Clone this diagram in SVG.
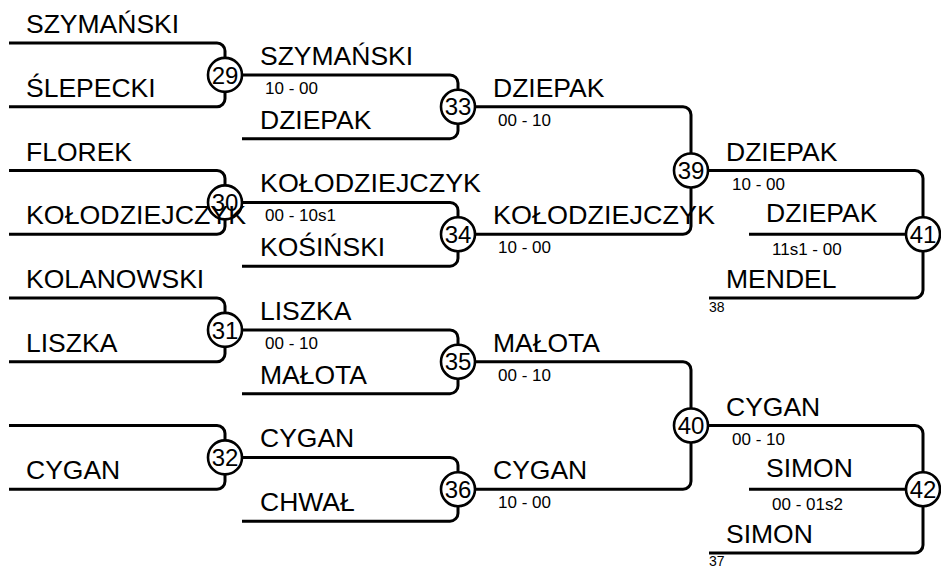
<svg xmlns="http://www.w3.org/2000/svg" width="941" height="566" viewBox="0 0 941 566">
<style>
.c{fill:none;stroke:#000;stroke-width:3;stroke-linejoin:round}
.n circle{fill:#fff;stroke:#000;stroke-width:2.6}
.n text{font-family:"Liberation Sans",Arial,sans-serif;font-size:24px;text-anchor:middle;fill:#000}
.nm{font-family:"Liberation Sans",Arial,sans-serif;font-size:26.5px;fill:#000}
.sc{font-family:"Liberation Sans",Arial,sans-serif;font-size:17px;fill:#000}
.sm{font-family:"Liberation Sans",Arial,sans-serif;font-size:14px;fill:#000}
</style>
<rect width="941" height="566" fill="#fff"/>
<g id="connectors">
<path class="c" d="M9 43 H217 A8 8 0 0 1 225 51 V57.88"/>
<path class="c" d="M9 106.75 H217 A8 8 0 0 0 225 98.75 V91.88"/>
<path class="c" d="M9 170.5 H217 A8 8 0 0 1 225 178.5 V185.38"/>
<path class="c" d="M9 234.25 H217 A8 8 0 0 0 225 226.25 V219.38"/>
<path class="c" d="M9 298 H217 A8 8 0 0 1 225 306 V312.88"/>
<path class="c" d="M9 361.75 H217 A8 8 0 0 0 225 353.75 V346.88"/>
<path class="c" d="M9 425.5 H217 A8 8 0 0 1 225 433.5 V440.38"/>
<path class="c" d="M9 489.25 H217 A8 8 0 0 0 225 481.25 V474.38"/>
<path class="c" d="M242 74.88 H450 A8 8 0 0 1 458 82.88 V89.75"/>
<path class="c" d="M242 138.63 H450 A8 8 0 0 0 458 130.63 V123.75"/>
<path class="c" d="M242 202.38 H450 A8 8 0 0 1 458 210.38 V217.25"/>
<path class="c" d="M242 266.13 H450 A8 8 0 0 0 458 258.13 V251.25"/>
<path class="c" d="M242 329.88 H450 A8 8 0 0 1 458 337.88 V344.75"/>
<path class="c" d="M242 393.63 H450 A8 8 0 0 0 458 385.63 V378.75"/>
<path class="c" d="M242 457.38 H450 A8 8 0 0 1 458 465.38 V472.25"/>
<path class="c" d="M242 521.13 H450 A8 8 0 0 0 458 513.13 V506.25"/>
<path class="c" d="M475 106.75 H683 A8 8 0 0 1 691 114.75 V153.5"/>
<path class="c" d="M475 234.25 H683 A8 8 0 0 0 691 226.25 V187.5"/>
<path class="c" d="M475 361.75 H683 A8 8 0 0 1 691 369.75 V408.5"/>
<path class="c" d="M475 489.25 H683 A8 8 0 0 0 691 481.25 V442.5"/>
<path class="c" d="M708 170.5 H915 A8 8 0 0 1 923 178.5 V217.25"/>
<path class="c" d="M749 234.25 H906"/>
<path class="c" d="M709 298 H915 A8 8 0 0 0 923 290 V251.25"/>
<path class="c" d="M708 425.5 H915 A8 8 0 0 1 923 433.5 V472.25"/>
<path class="c" d="M749 489.25 H906"/>
<path class="c" d="M709 553 H915 A8 8 0 0 0 923 545 V506.25"/>
</g>
<g id="m29" class="n"><circle cx="225" cy="74.88" r="17"/><text x="225" y="83.5">29</text></g>
<g id="m30" class="n"><circle cx="225" cy="202.38" r="17"/><text x="225" y="211">30</text></g>
<g id="m31" class="n"><circle cx="225" cy="329.88" r="17"/><text x="225" y="338.5">31</text></g>
<g id="m32" class="n"><circle cx="225" cy="457.38" r="17"/><text x="225" y="466">32</text></g>
<g id="m33" class="n"><circle cx="458" cy="106.75" r="17"/><text x="458" y="115.4">33</text></g>
<g id="m34" class="n"><circle cx="458" cy="234.25" r="17"/><text x="458" y="242.9">34</text></g>
<g id="m35" class="n"><circle cx="458" cy="361.75" r="17"/><text x="458" y="370.4">35</text></g>
<g id="m36" class="n"><circle cx="458" cy="489.25" r="17"/><text x="458" y="497.9">36</text></g>
<g id="m39" class="n"><circle cx="691" cy="170.5" r="17"/><text x="691" y="179.1">39</text></g>
<g id="m40" class="n"><circle cx="691" cy="425.5" r="17"/><text x="691" y="434.1">40</text></g>
<g id="m41" class="n"><circle cx="923" cy="234.25" r="17"/><text x="923" y="242.9">41</text></g>
<g id="m42" class="n"><circle cx="923" cy="489.25" r="17"/><text x="923" y="497.9">42</text></g>
<g id="labels">
<text class="nm" x="26" y="33">SZYMAŃSKI</text>
<text class="nm" x="26" y="96.75">ŚLEPECKI</text>
<text class="nm" x="26" y="160.5">FLOREK</text>
<text class="nm" x="26" y="224.25" textLength="220" lengthAdjust="spacingAndGlyphs">KOŁODZIEJCZYK</text>
<text class="nm" x="26" y="288">KOLANOWSKI</text>
<text class="nm" x="26" y="351.75">LISZKA</text>
<text class="nm" x="26" y="479.25">CYGAN</text>
<text class="nm" x="260" y="64.88">SZYMAŃSKI</text>
<text class="nm" x="260" y="128.63">DZIEPAK</text>
<text class="nm" x="260" y="192.38" textLength="221" lengthAdjust="spacingAndGlyphs">KOŁODZIEJCZYK</text>
<text class="nm" x="260" y="256.13">KOŚIŃSKI</text>
<text class="nm" x="260" y="319.88">LISZKA</text>
<text class="nm" x="260" y="383.63">MAŁOTA</text>
<text class="nm" x="260" y="447.38">CYGAN</text>
<text class="nm" x="260" y="511.13">CHWAŁ</text>
<text class="sc" x="265" y="93.88">10 - 00</text>
<text class="sc" x="265" y="221.38">00 - 10s1</text>
<text class="sc" x="265" y="348.88">00 - 10</text>
<text class="nm" x="493" y="96.75">DZIEPAK</text>
<text class="nm" x="493" y="224.25" textLength="222" lengthAdjust="spacingAndGlyphs">KOŁODZIEJCZYK</text>
<text class="nm" x="493" y="351.75">MAŁOTA</text>
<text class="nm" x="493" y="479.25">CYGAN</text>
<text class="sc" x="498" y="125.75">00 - 10</text>
<text class="sc" x="498" y="253.25">10 - 00</text>
<text class="sc" x="498" y="380.75">00 - 10</text>
<text class="sc" x="498" y="508.25">10 - 00</text>
<text class="nm" x="726" y="160.5">DZIEPAK</text>
<text class="sc" x="732" y="189.5">10 - 00</text>
<text class="nm" x="766" y="222">DZIEPAK</text>
<text class="sc" x="772" y="254.5">11s1 - 00</text>
<text class="nm" x="726" y="288">MENDEL</text>
<text class="sm" x="709" y="312">38</text>
<text class="nm" x="726" y="415.5">CYGAN</text>
<text class="sc" x="732" y="444.5">00 - 10</text>
<text class="nm" x="766" y="477">SIMON</text>
<text class="sc" x="772" y="509.5">00 - 01s2</text>
<text class="nm" x="726" y="543">SIMON</text>
<text class="sm" x="709" y="565.5">37</text>
</g>
</svg>
